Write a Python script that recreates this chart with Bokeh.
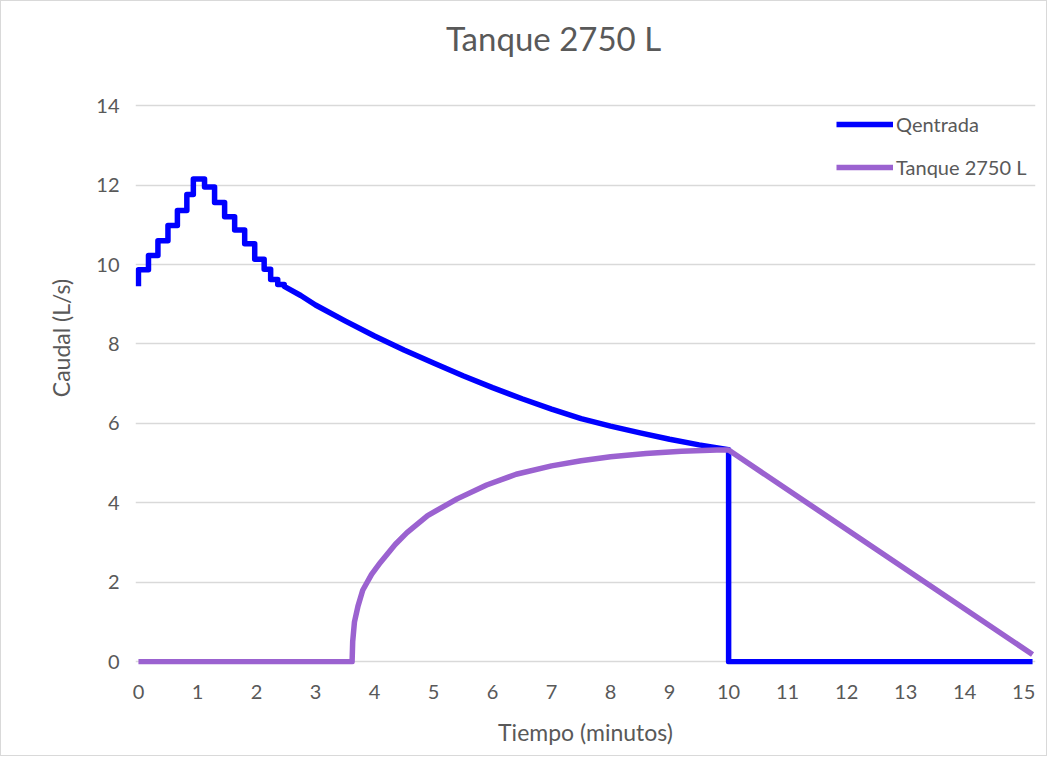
from bokeh.plotting import figure
from bokeh.models import Range1d, Legend, LegendItem, FixedTicker, Label
from bokeh.embed import file_html
from bokeh.resources import INLINE

# ---- data ----
title_text = "Tanque 2750 L"
series_names = ["Qentrada", "Tanque 2750 L"]
x_ticks = list(range(0, 16))
y_ticks = [0, 2, 4, 6, 8, 10, 12, 14]

# Qentrada: stepped part (time in minutes where each level starts, level in L/s)
step_time = [0.0, 0.0, 0.17, 0.33, 0.50, 0.66, 0.82, 0.93, 1.12, 1.29, 1.46, 1.63, 1.80, 1.97, 2.13, 2.24, 2.36]
step_q = [9.45, 9.87, 10.23, 10.60, 10.98, 11.36, 11.76, 12.15, 11.95, 11.56, 11.20, 10.87, 10.52, 10.13, 9.88, 9.62, 9.50]
# Qentrada: smooth part
smooth_time = [2.47, 2.75, 3.0, 3.5, 4.0, 4.5, 5.0, 5.5, 6.0, 6.5, 7.0, 7.5, 8.0, 8.5, 9.0, 9.5, 10.0]
smooth_q = [9.45, 9.22, 8.98, 8.58, 8.20, 7.85, 7.52, 7.20, 6.90, 6.62, 6.36, 6.12, 5.93, 5.76, 5.60, 5.46, 5.34]
# Qentrada after the cut-off
tail_time = [10.0, 15.15]
tail_q = [0.0, 0.0]

# Tanque 2750 L
tank_time = [0.0, 3.62, 3.63, 3.66, 3.72, 3.80, 3.95, 4.10, 4.35, 4.55, 4.90, 5.40, 5.90, 6.40,
             7.0, 7.5, 8.0, 8.6, 9.2, 9.8, 10.0, 15.15]
tank_q = [0.0, 0.0, 0.5, 1.0, 1.4, 1.8, 2.2, 2.5, 2.95, 3.25, 3.68, 4.10, 4.45, 4.72,
          4.93, 5.06, 5.16, 5.24, 5.30, 5.33, 5.33, 0.18]

# ---- build the blue path from the arrays ----
bx, by = [], []
for i, (t, q) in enumerate(zip(step_time, step_q)):
    nxt = step_time[i + 1] if i + 1 < len(step_time) else smooth_time[0]
    bx += [t, nxt]
    by += [q, q]
bx += smooth_time
by += smooth_q
bx += tail_time
by += tail_q

FONT = "Lato"
GREY = "#595959"
BLUE = "#0000ff"
PURPLE = "#9b62d0"

# frame extends above the 14 gridline so that the title can sit inside it
p = figure(
    frame_width=900, frame_height=653,
    min_border_left=134, min_border_right=11, min_border_top=10, min_border_bottom=91,
    x_range=Range1d(-0.05, 15.2), y_range=Range1d(-0.07, 16.37),
    output_backend="svg", toolbar_location=None,
    background_fill_color="white", border_fill_color="white",
    styles={"border": "1px solid #d9d9d9"},
)
p.outline_line_color = None
p.xgrid.visible = False
p.ygrid.grid_line_color = "#d9d9d9"
p.ygrid.grid_line_width = 1.5

p.xaxis.ticker = FixedTicker(ticks=x_ticks)
p.yaxis.ticker = FixedTicker(ticks=y_ticks)
for ax in (p.xaxis, p.yaxis):
    ax.axis_line_color = None
    ax.major_tick_line_color = None
    ax.minor_tick_line_color = None
    ax.major_tick_out = 0
    ax.major_tick_in = 0
    ax.minor_tick_out = 0
    ax.minor_tick_in = 0
    ax.major_label_text_font = FONT
    ax.major_label_text_font_size = "20px"
    ax.major_label_text_color = GREY
    ax.axis_label_text_font = FONT
    ax.axis_label_text_font_size = "23px"
    ax.axis_label_text_color = GREY
    ax.axis_label_text_font_style = "normal"

p.xaxis.axis_label = "Tiempo (minutos)"
p.yaxis.axis_label = "Caudal (L/s)"
p.xaxis.major_label_standoff = 20
p.xaxis.axis_label_standoff = 16
p.yaxis.major_label_standoff = 16
p.yaxis.axis_label_standoff = 18

r_blue = p.line(bx, by, line_color=BLUE, line_width=5.5, line_join="round")
r_tank = p.line(tank_time, tank_q, line_color=PURPLE, line_width=5.5, line_join="round")

legend = Legend(
    items=[LegendItem(label=series_names[0], renderers=[r_blue]),
           LegendItem(label=series_names[1], renderers=[r_tank])],
    location=(701, 485), margin=0, padding=0, spacing=19,
    glyph_width=57, glyph_height=24, label_height=24, label_standoff=3,
    label_text_font=FONT, label_text_font_size="20px", label_text_color=GREY,
    background_fill_alpha=0, border_line_color=None,
)
p.add_layout(legend)

title = Label(x=418, y=627, x_units="screen", y_units="screen", text=title_text,
              text_align="center", text_baseline="middle",
              text_font=FONT, text_font_size="33px", text_color=GREY)
p.add_layout(title)

open("out.html", "w").write(file_html(p, INLINE))
